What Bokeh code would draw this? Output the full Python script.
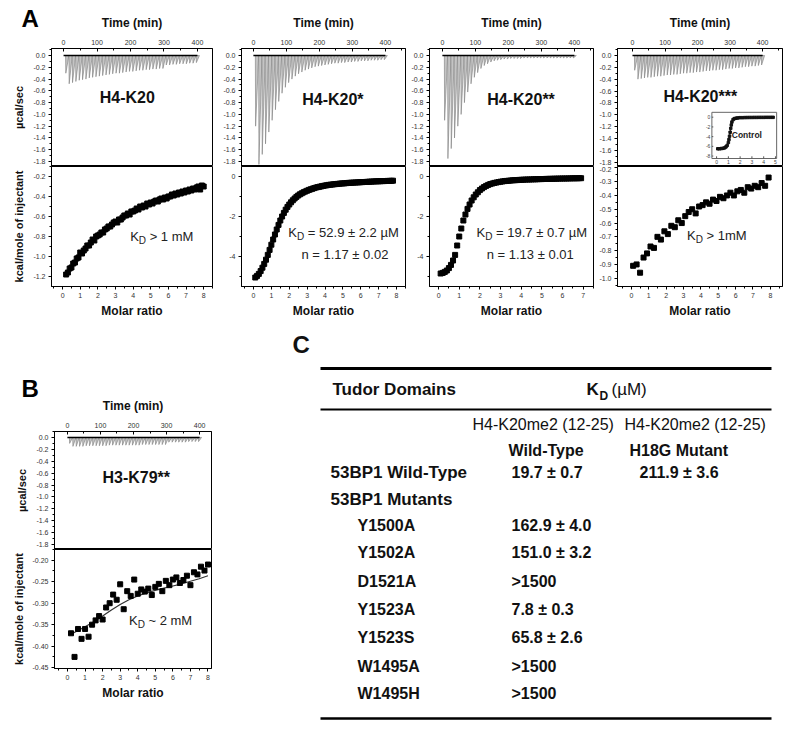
from bokeh.plotting import figure
from bokeh.layouts import row, column
from bokeh.models import Range1d, LinearAxis, SingleIntervalTicker, PrintfTickFormatter
from bokeh.core.properties import value
from bokeh.embed import file_html
from bokeh.resources import INLINE

FONT = "Liberation Sans"

# ---------------- data ----------------
inj_time = [6, 16, 26, 36, 46, 56, 66, 76, 86, 96, 106, 116, 126, 136, 146, 156, 166, 176, 186, 196,
            206, 216, 226, 236, 246, 256, 266, 276, 286, 296, 306, 316, 326, 336, 346, 356, 366, 376, 386, 396]
baseline_time = [0, 400]

raw_h4k20 = [-0.30, -0.48, -0.46, -0.44, -0.42, -0.41, -0.40, -0.38, -0.37, -0.36, -0.35, -0.34, -0.33, -0.32,
             -0.31, -0.30, -0.30, -0.29, -0.28, -0.27, -0.27, -0.26, -0.25, -0.25, -0.24, -0.24, -0.23, -0.23,
             -0.22, -0.22, -0.16, -0.16, -0.15, -0.15, -0.14, -0.14, -0.14, -0.13, -0.13, -0.12]
raw_h4k20_s = [-1.20, -1.85, -1.68, -1.50, -1.30, -1.10, -0.92, -0.78, -0.64, -0.54, -0.46, -0.40, -0.35, -0.31,
               -0.28, -0.25, -0.23, -0.21, -0.19, -0.18, -0.17, -0.16, -0.15, -0.14, -0.13, -0.13, -0.12, -0.12,
               -0.11, -0.11, -0.10, -0.10, -0.09, -0.09, -0.09, -0.08, -0.08, -0.08, -0.07, -0.07]
raw_h4k20_ss = [-1.10, -1.75, -1.58, -1.40, -1.20, -1.00, -0.80, -0.62, -0.48, -0.37, -0.29, -0.22, -0.17, -0.14,
                -0.11, -0.09, -0.08, -0.07, -0.06, -0.06, -0.05, -0.05, -0.05, -0.05, -0.04, -0.04, -0.04, -0.04,
                -0.04, -0.04, -0.04, -0.04, -0.04, -0.04, -0.04, -0.04, -0.04, -0.04, -0.04, -0.04]
raw_h4k20_sss = [-0.25, -0.40, -0.39, -0.38, -0.37, -0.37, -0.36, -0.35, -0.35, -0.34, -0.33, -0.33, -0.32, -0.32,
                 -0.31, -0.30, -0.30, -0.29, -0.29, -0.28, -0.28, -0.27, -0.26, -0.26, -0.25, -0.25, -0.24, -0.24,
                 -0.23, -0.22, -0.22, -0.21, -0.21, -0.20, -0.19, -0.19, -0.18, -0.18, -0.17, -0.16]
raw_h3k79 = [-0.10, -0.15, -0.15, -0.15, -0.15, -0.14, -0.14, -0.14, -0.14, -0.14, -0.14, -0.14, -0.13, -0.13,
             -0.13, -0.13, -0.13, -0.13, -0.13, -0.13, -0.13, -0.13, -0.12, -0.12, -0.12, -0.12, -0.12, -0.12,
             -0.12, -0.12, -0.08, -0.08, -0.08, -0.08, -0.08, -0.08, -0.07, -0.07, -0.07, -0.07]

mr_h4k20 = [0.2, 0.3, 0.4, 0.5, 0.6, 0.7, 0.8, 0.9, 1.0, 1.1, 1.2, 1.3, 1.4, 1.5, 1.6, 1.7, 1.8, 1.9, 2.0,
            2.1, 2.2, 2.3, 2.4, 2.5, 2.6, 2.7, 2.8, 2.9, 3.0, 3.1, 3.2, 3.3, 3.4, 3.5, 3.6, 3.7, 3.8, 3.9, 4.0,
            4.1, 4.2, 4.3, 4.4, 4.5, 4.6, 4.7, 4.8, 4.9, 5.0, 5.1, 5.2, 5.3, 5.4, 5.5, 5.6, 5.7, 5.8, 5.9, 6.0,
            6.1, 6.2, 6.3, 6.4, 6.5, 6.6, 6.7, 6.8, 6.9, 7.0, 7.1, 7.2, 7.3, 7.4, 7.5, 7.6, 7.7, 7.8, 7.9, 8.0]
heat_h4k20 = [-1.18, -1.16, -1.12, -1.11, -1.07, -1.06, -1.02, -1.01, -0.96, -0.97, -0.94, -0.92, -0.89, -0.89,
              -0.86, -0.83, -0.84, -0.80, -0.79, -0.78, -0.76, -0.76, -0.73, -0.72, -0.70, -0.70, -0.68, -0.66,
              -0.65, -0.66, -0.63, -0.63, -0.61, -0.59, -0.59, -0.57, -0.58, -0.55, -0.55, -0.54, -0.52, -0.53,
              -0.50, -0.51, -0.49, -0.50, -0.47, -0.48, -0.46, -0.47, -0.45, -0.44, -0.45, -0.43, -0.42, -0.43,
              -0.41, -0.42, -0.40, -0.40, -0.38, -0.39, -0.37, -0.38, -0.36, -0.37, -0.35, -0.36, -0.34, -0.35,
              -0.33, -0.34, -0.32, -0.33, -0.31, -0.30, -0.33, -0.29, -0.30]

mr_h4k20_s = [0.1, 0.2, 0.3, 0.4, 0.5, 0.6, 0.7, 0.8, 0.9, 1.0, 1.1, 1.2, 1.3, 1.4, 1.5, 1.6, 1.7, 1.8, 1.9, 2.0,
              2.1, 2.2, 2.3, 2.4, 2.5, 2.6, 2.7, 2.8, 2.9, 3.0, 3.1, 3.2, 3.3, 3.4, 3.5, 3.6, 3.7, 3.8, 3.9, 4.0,
              4.1, 4.2, 4.3, 4.4, 4.5, 4.6, 4.7, 4.8, 4.9, 5.0, 5.1, 5.2, 5.3, 5.4, 5.5, 5.6, 5.7, 5.8, 5.9, 6.0,
              6.1, 6.2, 6.3, 6.4, 6.5, 6.6, 6.7, 6.8, 6.9, 7.0, 7.1, 7.2, 7.3, 7.4, 7.5, 7.6, 7.7, 7.8]
heat_h4k20_s = [-5.05, -4.97, -4.87, -4.73, -4.56, -4.37, -4.16, -3.92, -3.67, -3.41, -3.15, -2.90, -2.65, -2.42,
                -2.20, -2.00, -1.82, -1.66, -1.52, -1.40, -1.29, -1.19, -1.10, -1.02, -0.95, -0.89, -0.84, -0.79,
                -0.75, -0.71, -0.67, -0.64, -0.61, -0.58, -0.55, -0.53, -0.51, -0.49, -0.47, -0.45, -0.44, -0.42,
                -0.41, -0.40, -0.39, -0.38, -0.37, -0.36, -0.35, -0.345, -0.34, -0.33, -0.32, -0.315, -0.31,
                -0.305, -0.30, -0.295, -0.29, -0.285, -0.28, -0.275, -0.27, -0.265, -0.26, -0.255, -0.25, -0.245,
                -0.24, -0.24, -0.235, -0.23, -0.23, -0.225, -0.22, -0.22, -0.215, -0.21]

mr_h4k20_ss = [0.1, 0.2, 0.3, 0.4, 0.5, 0.6, 0.7, 0.8, 0.9, 1.0, 1.1, 1.2, 1.3, 1.4, 1.5, 1.6, 1.7, 1.8, 1.9,
               2.0, 2.1, 2.2, 2.3, 2.4, 2.5, 2.6, 2.7, 2.8, 2.9, 3.0, 3.1, 3.2, 3.3, 3.4, 3.5, 3.6, 3.7, 3.8,
               3.9, 4.0, 4.1, 4.2, 4.3, 4.4, 4.5, 4.6, 4.7, 4.8, 4.9, 5.0, 5.1, 5.2, 5.3, 5.4, 5.5, 5.6, 5.7,
               5.8, 5.9, 6.0, 6.1, 6.2, 6.3, 6.4, 6.5, 6.6, 6.7, 6.8, 6.9]
heat_h4k20_ss = [-4.85, -4.82, -4.77, -4.70, -4.58, -4.42, -4.20, -3.92, -3.45, -3.00, -2.60, -2.20, -1.90,
                 -1.62, -1.40, -1.20, -1.04, -0.90, -0.79, -0.68, -0.60, -0.53, -0.47, -0.42, -0.38, -0.35, -0.32,
                 -0.30, -0.28, -0.26, -0.245, -0.23, -0.22, -0.21, -0.20, -0.19, -0.185, -0.18, -0.17, -0.165,
                 -0.16, -0.155, -0.15, -0.15, -0.145, -0.14, -0.14, -0.135, -0.13, -0.13, -0.125, -0.12, -0.12,
                 -0.115, -0.115, -0.11, -0.11, -0.105, -0.105, -0.10, -0.10, -0.10, -0.095, -0.095, -0.09, -0.09,
                 -0.09, -0.085, -0.085]

mr_h4k20_sss = [0.1, 0.3, 0.5, 0.7, 0.9, 1.1, 1.3, 1.5, 1.7, 1.9, 2.1, 2.3, 2.5, 2.7, 2.9, 3.1, 3.3, 3.5, 3.7, 3.9,
                4.1, 4.3, 4.5, 4.7, 4.9, 5.1, 5.3, 5.5, 5.7, 5.9, 6.1, 6.3, 6.5, 6.7, 6.9, 7.1, 7.3, 7.5, 7.7, 7.9]
heat_h4k20_sss = [-0.91, -0.90, -0.96, -0.85, -0.82, -0.77, -0.78, -0.70, -0.72, -0.66, -0.68, -0.62, -0.63, -0.58,
                  -0.60, -0.55, -0.52, -0.50, -0.53, -0.48, -0.47, -0.45, -0.46, -0.43, -0.44, -0.41, -0.42, -0.40,
                  -0.38, -0.40, -0.37, -0.36, -0.38, -0.34, -0.35, -0.33, -0.34, -0.31, -0.33, -0.27]

mr_h3k79 = [0.2, 0.4, 0.6, 0.8, 1.0, 1.2, 1.4, 1.6, 1.8, 2.0, 2.2, 2.4, 2.6, 2.8, 3.0, 3.2, 3.4, 3.6, 3.8, 4.0,
            4.2, 4.4, 4.6, 4.8, 5.0, 5.2, 5.4, 5.6, 5.8, 6.0, 6.2, 6.4, 6.6, 6.8, 7.0, 7.2, 7.4, 7.6, 7.8, 8.0]
heat_h3k79 = [-0.370, -0.425, -0.360, -0.383, -0.360, -0.378, -0.350, -0.340, -0.330, -0.338, -0.310, -0.300,
              -0.280, -0.292, -0.256, -0.314, -0.272, -0.283, -0.245, -0.278, -0.268, -0.273, -0.266, -0.281,
              -0.262, -0.255, -0.272, -0.248, -0.258, -0.245, -0.240, -0.253, -0.246, -0.236, -0.258, -0.228,
              -0.233, -0.215, -0.224, -0.210]
fit_h3k79_ratio = [0.2, 0.5, 1.0, 1.5, 2.0, 2.5, 3.0, 3.5, 4.0, 4.5, 5.0, 5.5, 6.0, 6.5, 7.0, 7.5, 8.0]
fit_h3k79_heat = [-0.372, -0.366, -0.355, -0.343, -0.330, -0.316, -0.303, -0.292, -0.283, -0.276, -0.270,
                  -0.265, -0.260, -0.255, -0.249, -0.243, -0.236]

ctrl_ratio = [0.1, 0.25, 0.4, 0.55, 0.7, 0.8, 0.9, 1.0, 1.05, 1.1, 1.15, 1.2, 1.25, 1.3, 1.4, 1.5, 1.65, 1.8,
              2.0, 2.2, 2.4, 2.6, 2.8, 3.0, 3.2, 3.4, 3.6, 3.8, 4.0, 4.2, 4.4, 4.6, 4.8]
ctrl_heat = [-6.5, -6.5, -6.45, -6.4, -6.3, -6.1, -5.8, -5.2, -4.6, -3.9, -3.1, -2.3, -1.6, -1.0, -0.5, -0.3,
             -0.2, -0.15, -0.1, -0.1, -0.08, -0.07, -0.06, -0.06, -0.05, -0.05, -0.04, -0.04, -0.04, -0.03,
             -0.03, -0.03, -0.03]
ctrl_xticks = [0, 1, 2, 3, 4, 5]
ctrl_yticks = [0, -2, -4, -6, -8]

panel_names = ["H4-K20", "H4-K20*", "H4-K20**", "H4-K20***"]
panel_letters = ["A", "B", "C"]

table_kd_cols = ["H4-K20me2 (12-25)", "H4-K20me2 (12-25)"]
table_kd_sub = ["Wild-Type", "H18G Mutant"]
wt_label = "53BP1 Wild-Type"
wt_kd = ["19.7 ± 0.7", "211.9 ± 3.6"]
mutant_names = ["Y1500A", "Y1502A", "D1521A", "Y1523A", "Y1523S", "W1495A", "W1495H"]
mutant_kd = ["162.9 ± 4.0", "151.0 ± 3.2", ">1500", "7.8 ± 0.3", "65.8 ± 2.6", ">1500", ">1500"]

PAD = 7  # extra offset so that the drawing starts where the reference starts
ROW_A_H = (159 + PAD) + 158
ROW_B_H = 225 + 174
TOTAL_W = (208 + PAD) + 193 + 188 + 195
TOTAL_H = ROW_A_H + ROW_B_H


# ---------------- helpers ----------------
def base_fig(width, height, xr, yr, bl, br, bt, bb):
    p = figure(width=width, height=height, x_range=Range1d(*xr), y_range=Range1d(*yr),
               output_backend="svg", toolbar_location=None,
               x_axis_location=None, y_axis_location=None,
               min_border_left=bl, min_border_right=br, min_border_top=bt, min_border_bottom=bb)
    p.outline_line_color = "black"
    p.outline_line_width = 1
    p.background_fill_color = "white"
    p.border_fill_color = "white"
    p.grid.visible = False
    return p


def add_axis(p, side, interval, fmt=None, label=None, tick_in=0, tick_out=3,
             minor_in=0, minor_out=2, standoff=3, label_standoff=5, label_size="11px"):
    ax = LinearAxis(ticker=SingleIntervalTicker(interval=interval, num_minor_ticks=2))
    if fmt is not None:
        ax.formatter = PrintfTickFormatter(format=fmt)
    ax.major_tick_in = tick_in
    ax.major_tick_out = tick_out
    ax.minor_tick_in = minor_in
    ax.minor_tick_out = minor_out
    ax.axis_line_color = "black"
    ax.major_tick_line_color = "black"
    ax.minor_tick_line_color = "black"
    ax.major_label_text_font = FONT
    ax.major_label_text_font_size = "7px"
    ax.major_label_text_color = "#333333"
    ax.major_label_standoff = standoff
    if label:
        ax.axis_label = label
        ax.axis_label_text_font = FONT
        ax.axis_label_text_font_size = label_size
        ax.axis_label_text_font_style = "bold"
        ax.axis_label_text_color = "#111111"
        ax.axis_label_standoff = label_standoff
    p.add_layout(ax, side)


def raw_panel(width, bl, br, xr, yr, peaks, name, nx, ny, ylabel=None, height=159, bt=41):
    p = base_fig(width, height, xr, yr, bl, br, bt, 0)
    xs = [[t, t + 0.8, t + 10] for t in inj_time]
    ys = [[0, v, 0] for v in peaks]
    p.patches(xs, ys, fill_color="#c4c4c4", line_color="#7c7c7c", line_width=0.6)
    p.line(baseline_time, [0, 0], line_color="black", line_width=1.5)
    add_axis(p, "above", 100, label="Time (min)", tick_in=3, tick_out=0, minor_in=2, minor_out=0,
             standoff=4, label_standoff=7, label_size="12px")
    add_axis(p, "left", 0.2, fmt="%.1f", label=ylabel, standoff=3, label_standoff=5)
    p.text(x=[nx], y=[ny], text=[name], text_font=value(FONT), text_font_size="16px",
           text_font_style="bold", text_baseline="middle", text_align="left", text_color="#111111")
    return p


def itc_panel(width, bl, br, xr, yr, mr, heat, ytick, yfmt, ylabel=None, height=158, bb=38, fit=None):
    p = base_fig(width, height, xr, yr, bl, br, 0, bb)
    if fit is not None:
        p.line(fit[0], fit[1], line_color="#333333", line_width=1.2)
    p.scatter(mr, heat, marker="square", size=5, color="black")
    add_axis(p, "below", 1, label="Molar ratio", tick_out=3, minor_out=2, standoff=3,
             label_standoff=3, label_size="12px")
    add_axis(p, "left", ytick, fmt=yfmt, label=ylabel, standoff=3, label_standoff=5)
    return p


def plain_text(p, x, y, txt, size=13):
    p.text(x=[x], y=[y], text=[txt], text_font=value(FONT), text_font_size=f"{size}px",
           text_baseline="middle", text_align="left", text_color="#222222")


def kd_text(p, x, y, rest, size=13):
    sub = round(size * 0.77, 1)
    common = dict(text_font=value(FONT), text_align="left", text_color="#222222")
    p.text(x=[x], y=[y], text=["K"], text_font_size=f"{size}px", text_baseline="middle", **common)
    p.text(x=[x], y=[y], text=["D"], text_font_size=f"{sub}px", text_baseline="middle",
           x_offset=0.667 * size, y_offset=4, **common)
    p.text(x=[x], y=[y], text=[rest], text_font_size=f"{size}px", text_baseline="middle",
           x_offset=0.667 * size + 0.722 * sub + 0.278 * size, **common)


# ---------------- panel A ----------------
top_y = (-1.885, 0.12)
a1t = raw_panel(208 + PAD, 44 + PAD, 3, (-36, 445), top_y, raw_h4k20, panel_names[0], 108, -0.72,
                ylabel="µcal/sec", height=159 + PAD, bt=41 + PAD)
a2t = raw_panel(193, 26, 3, (-36, 461), top_y, raw_h4k20_s, panel_names[1], 148, -0.75,
                height=159 + PAD, bt=41 + PAD)
a3t = raw_panel(188, 21, 3, (-39, 458), top_y, raw_h4k20_ss, panel_names[2], 136, -0.75,
                height=159 + PAD, bt=41 + PAD)
a4t = raw_panel(195, 20, 9, (-46, 461), (-1.875, 0.118), raw_h4k20_sss, panel_names[3], 95, -0.69,
                height=159 + PAD, bt=41 + PAD)

# inset (control titration) inside the fourth raw panel
inset_box_time = (244, 443)
inset_box_heat = (-1.74, -0.96)
ctrl_xlim = (-0.4, 5.1)
ctrl_ylim = (-8.5, 1.0)
a4t.quad(left=[inset_box_time[0]], right=[inset_box_time[1]], bottom=[inset_box_heat[0]],
         top=[inset_box_heat[1]], fill_color="white", line_color="#666666", line_width=1)
ins = a4t.subplot(x_source=Range1d(*ctrl_xlim), y_source=Range1d(*ctrl_ylim),
                  x_target=Range1d(*inset_box_time), y_target=Range1d(*inset_box_heat))
ins.line(ctrl_ratio, ctrl_heat, line_color="#222222", line_width=1)
ins.scatter(ctrl_ratio, ctrl_heat, marker="square", size=2.5, color="#111111")
ins.segment(x0=ctrl_xticks, y0=[ctrl_ylim[0]] * len(ctrl_xticks), x1=ctrl_xticks,
            y1=[ctrl_ylim[0] + 0.45] * len(ctrl_xticks), line_color="#555555")
ins.segment(x0=[ctrl_xlim[0]] * len(ctrl_yticks), y0=ctrl_yticks,
            x1=[ctrl_xlim[0] + 0.12] * len(ctrl_yticks), y1=ctrl_yticks, line_color="#555555")
ins.text(x=ctrl_xticks, y=[ctrl_ylim[0]] * len(ctrl_xticks), text=[str(v) for v in ctrl_xticks],
         text_font=value(FONT), text_font_size="5px", text_align="center", text_baseline="top",
         y_offset=1, text_color="#444444")
ins.text(x=[ctrl_xlim[0]] * len(ctrl_yticks), y=ctrl_yticks, text=[str(v) for v in ctrl_yticks],
         text_font=value(FONT), text_font_size="5px", text_align="right", text_baseline="middle",
         x_offset=-1.5, text_color="#444444")
ins.text(x=[2.57], y=[-3.7], text=["Control"], text_font=value(FONT), text_font_size="8.5px",
         text_font_style="bold", text_align="center", text_baseline="middle", text_color="#222222")

a1b = itc_panel(208 + PAD, 44 + PAD, 3, (-0.63, 8.5), (-1.3, -0.1), mr_h4k20, heat_h4k20, 0.2, "%.1f",
                ylabel="kcal/mole of injectant")
kd_text(a1b, 3.83, -0.80, "> 1 mM")
a2b = itc_panel(193, 26, 3, (-0.67, 8.5), (-5.5, 0.5), mr_h4k20_s, heat_h4k20_s, 2, "%.0f")
kd_text(a2b, 1.95, -2.8, "= 52.9 ± 2.2 µM")
plain_text(a2b, 2.68, -3.9, "n = 1.17 ± 0.02")
a3b = itc_panel(188, 21, 3, (-0.44, 7.5), (-5.5, 0.5), mr_h4k20_ss, heat_h4k20_ss, 2, "%.0f")
kd_text(a3b, 1.84, -2.8, "= 19.7 ± 0.7 µM")
plain_text(a3b, 2.33, -3.9, "n = 1.13 ± 0.01")
a4b = itc_panel(195, 20, 9, (-0.8, 8.7), (-1.06, -0.19), mr_h4k20_sss, heat_h4k20_sss, 0.1, "%.1f")
kd_text(a4b, 3.2, -0.69, "> 1mM")

# ---------------- panel B ----------------
bt = raw_panel(208 + PAD, 47 + PAD, 4, (-39, 436), (-1.885, 0.1), raw_h3k79, "H3-K79**", 106, -0.67,
               ylabel="µcal/sec", height=225, bt=107)
bb = itc_panel(208 + PAD, 47 + PAD, 4, (-0.74, 8.2), (-0.452, -0.175), mr_h3k79, heat_h3k79, 0.05, "%.2f",
               ylabel="kcal/mole of injectant", height=174, bb=55, fit=(fit_h3k79_ratio, fit_h3k79_heat))
kd_text(bb, 3.5, -0.341, "~ 2 mM")

# ---------------- panel C (table) ----------------
tab = figure(width=576, height=399, x_range=Range1d(216, 792), y_range=Range1d(724, 325),
             output_backend="svg", toolbar_location=None, x_axis_location=None, y_axis_location=None,
             min_border_left=0, min_border_right=0, min_border_top=0, min_border_bottom=0)
tab.outline_line_color = None
tab.grid.visible = False

rule_y = [369, 410, 719]
rule_w = [3, 2, 2.5]
tab.segment(x0=[321] * 3, x1=[772] * 3, y0=rule_y, y1=rule_y, line_width=rule_w, line_color="black")


def ttext(x, y, txt, size, bold=True, align="left", baseline="middle"):
    tab.text(x=[x], y=[y], text=[txt], text_font=value(FONT), text_font_size=f"{size}px",
             text_font_style="bold" if bold else "normal", text_align=align, text_baseline=baseline,
             text_color="#111111")


ttext(293, 345, panel_letters[2], 24)
ttext(333, 390, "Tudor Domains", 17)
ttext(587, 390, "K", 17)
ttext(600, 396, "D", 12)
ttext(612, 390, "(µM)", 17, bold=False)
ttext(473, 425, table_kd_cols[0], 16, bold=False)
ttext(625, 425, table_kd_cols[1], 16, bold=False)
ttext(509, 451, table_kd_sub[0], 16)
ttext(630, 451, table_kd_sub[1], 16)
ttext(331, 473, wt_label, 17)
ttext(512, 473, wt_kd[0], 16)
ttext(640, 473, wt_kd[1], 16)
ttext(331, 500, "53BP1 Mutants", 17)
mutant_y = [526, 553, 582, 610, 638, 667, 694]
tab.text(x=[358] * len(mutant_names), y=mutant_y, text=mutant_names, text_font=value(FONT),
         text_font_size="16px", text_font_style="bold", text_baseline="middle", text_color="#111111")
tab.text(x=[512] * len(mutant_kd), y=mutant_y, text=mutant_kd, text_font=value(FONT),
         text_font_size="16px", text_font_style="bold", text_baseline="middle", text_color="#111111")

# ---------------- transparent overlay carrying the panel letters A and B ----------------
ov = figure(width=TOTAL_W, height=TOTAL_H, x_range=Range1d(1, 1 + TOTAL_W), y_range=Range1d(1 + TOTAL_H, 1),
            output_backend="svg", toolbar_location=None, x_axis_location=None, y_axis_location=None,
            min_border_left=0, min_border_right=0, min_border_top=0, min_border_bottom=0,
            margin=(-TOTAL_H, 0, 0, 0))
ov.outline_line_color = None
ov.background_fill_color = None
ov.border_fill_color = None
ov.grid.visible = False
ov.text(x=[22, 22], y=[18.5, 388.5], text=panel_letters[:2], text_font=value(FONT), text_font_size="24px",
        text_font_style="bold", text_baseline="middle", text_align="left", text_color="black")

# ---------------- layout ----------------
rowA = row(column(a1t, a1b, spacing=0), column(a2t, a2b, spacing=0),
           column(a3t, a3b, spacing=0), column(a4t, a4b, spacing=0), spacing=0)
rowB = row(column(bt, bb, spacing=0), tab, spacing=0)
layout = column(rowA, rowB, ov, spacing=0)

open("out.html", "w").write(file_html(layout, INLINE, title="ITC 53BP1"))
